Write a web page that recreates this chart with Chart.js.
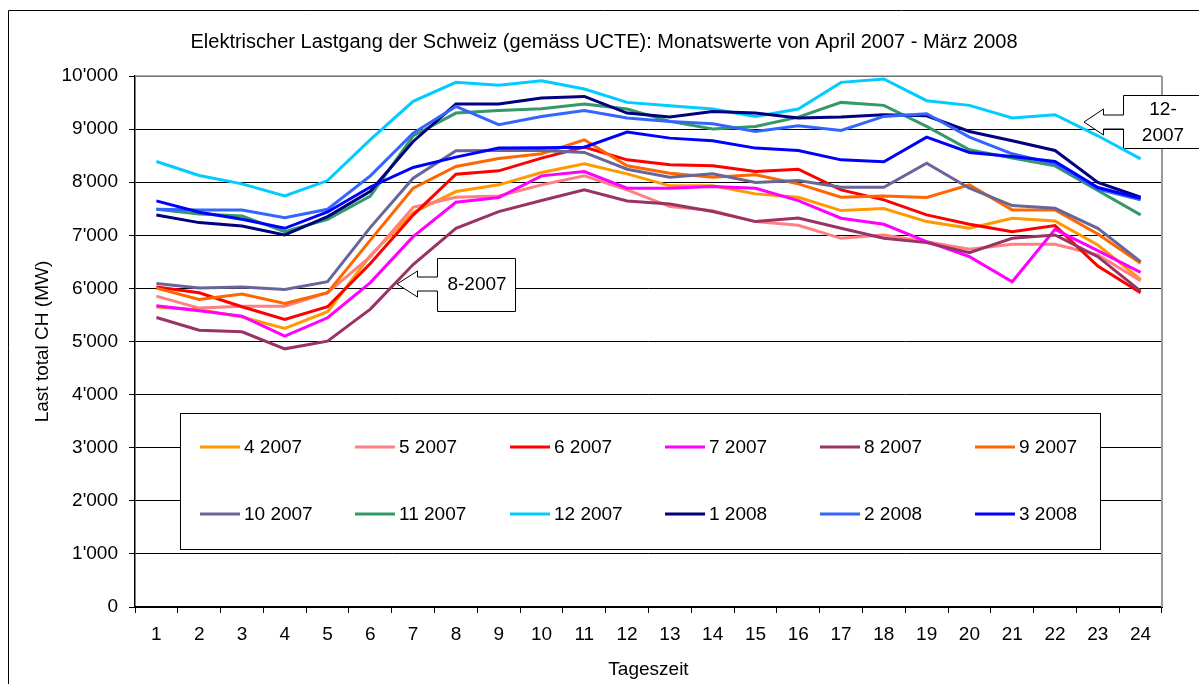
<!DOCTYPE html>
<html>
<head>
<meta charset="utf-8">
<script src="https://cdn.jsdelivr.net/npm/chart.js@4.4.0/dist/chart.umd.min.js"></script>
<style>
  html, body { margin: 0; padding: 0; background: #fff; }
  #wrap { width: 1199px; height: 684px; }
</style>
</head>
<body>
<div id="wrap"><canvas id="lastChart" width="1199" height="684"></canvas></div>
<script>
// Tageszeit (Stunden)
const hours = ['1', '2', '3', '4', '5', '6', '7', '8', '9', '10', '11', '12',
               '13', '14', '15', '16', '17', '18', '19', '20', '21', '22', '23', '24'];
const yTickLabels = ["0", "1'000", "2'000", "3'000", "4'000", "5'000",
                     "6'000", "7'000", "8'000", "9'000", "10'000"];
const monthLabels = ['4 2007', '5 2007', '6 2007', '7 2007', '8 2007', '9 2007',
                     '10 2007', '11 2007', '12 2007', '1 2008', '2 2008', '3 2008'];

// Last total CH (MW)
const apr2007 = [5648, 5600, 5460, 5245, 5560, 6620, 7430, 7824, 7950, 8182, 8346, 8157,
                 7931, 7931, 7780, 7717, 7465, 7503, 7258, 7132, 7321, 7270, 6818, 6170];
const mai2007 = [5855, 5629, 5666, 5666, 5918, 6597, 7528, 7717, 7742, 7950, 8119, 7855,
                 7541, 7465, 7258, 7189, 6943, 7006, 6881, 6736, 6830, 6830, 6629, 6145];
const jun2007 = [6025, 5918, 5654, 5415, 5654, 6470, 7380, 8151, 8214, 8453, 8660, 8421,
                 8327, 8308, 8201, 8245, 7855, 7667, 7384, 7208, 7069, 7182, 6421, 5918];
const jul2007 = [5673, 5579, 5478, 5101, 5447, 6110, 6975, 7623, 7711, 8119, 8201, 7887,
                 7887, 7918, 7887, 7654, 7321, 7208, 6881, 6597, 6126, 7113, 6711, 6302];
const aug2007 = [5453, 5214, 5182, 4862, 5006, 5610, 6450, 7132, 7447, 7654, 7855, 7648,
                 7591, 7447, 7258, 7327, 7132, 6943, 6862, 6673, 6943, 7006, 6597, 5950];
const sep2007 = [6006, 5792, 5893, 5717, 5918, 6910, 7887, 8296, 8447, 8535, 8799, 8308,
                 8170, 8094, 8138, 7969, 7717, 7742, 7711, 7950, 7478, 7478, 7025, 6472];
const okt2007 = [6094, 6006, 6025, 5981, 6126, 7150, 8075, 8591, 8597, 8597, 8560, 8245,
                 8094, 8157, 7994, 8031, 7906, 7906, 8358, 7887, 7560, 7509, 7132, 6503];
const nov2007 = [7490, 7403, 7365, 7069, 7302, 7740, 8874, 9302, 9352, 9384, 9472, 9377,
                 9145, 9000, 9050, 9226, 9503, 9447, 9050, 8610, 8453, 8308, 7843, 7384];
const dez2007 = [8390, 8126, 7969, 7742, 8031, 8800, 9522, 9880, 9824, 9912, 9755, 9503,
                 9440, 9377, 9239, 9377, 9880, 9943, 9535, 9447, 9208, 9270, 8874, 8440];
const jan2008 = [7384, 7239, 7176, 7006, 7352, 7830, 8767, 9472, 9472, 9585, 9616, 9302,
                 9226, 9333, 9302, 9208, 9226, 9270, 9252, 8956, 8780, 8597, 7994, 7717];
const feb2008 = [7490, 7478, 7478, 7333, 7491, 8120, 8925, 9428, 9082, 9239, 9352, 9208,
                 9145, 9101, 8956, 9063, 8975, 9239, 9289, 8849, 8535, 8346, 7868, 7667];
const mar2008 = [7648, 7434, 7302, 7132, 7440, 7910, 8277, 8472, 8642, 8648, 8660, 8943,
                 8830, 8780, 8642, 8597, 8421, 8384, 8849, 8560, 8484, 8390, 7899, 7698];

const seriesValues = [apr2007, mai2007, jun2007, jul2007, aug2007, sep2007,
                      okt2007, nov2007, dez2007, jan2008, feb2008, mar2008];
const lineColors = ['#FF9900', '#FF8080', '#FF0000', '#FF00FF', '#993366', '#FF6600',
                    '#666699', '#339966', '#00CCFF', '#000080', '#3366FF', '#0000FF'];

const FONT = "'Liberation Sans', Arial, sans-serif";
Chart.defaults.font.family = FONT;
Chart.defaults.font.size = 19;
Chart.defaults.color = '#000';

// Pfeil-Beschriftung: Kasten mit Pfeil nach links
function callout(ctx, boxL, boxT, boxR, boxB, tipX, tipY) {
    const headX = boxL - 20;
    ctx.beginPath();
    ctx.moveTo(boxL, boxT);
    ctx.lineTo(boxR, boxT);
    ctx.lineTo(boxR, boxB);
    ctx.lineTo(boxL, boxB);
    ctx.lineTo(boxL, tipY + 7);
    ctx.lineTo(headX, tipY + 7);
    ctx.lineTo(headX, tipY + 13);
    ctx.lineTo(tipX, tipY);
    ctx.lineTo(headX, tipY - 13);
    ctx.lineTo(headX, tipY - 7);
    ctx.lineTo(boxL, tipY - 7);
    ctx.closePath();
    ctx.fillStyle = '#fff';
    ctx.fill();
    ctx.strokeStyle = '#000';
    ctx.lineWidth = 1;
    ctx.stroke();
}

const decorPlugin = {
    id: 'decor',
    beforeDraw(chart) {
        const ctx = chart.ctx;
        ctx.save();
        ctx.fillStyle = '#fff';
        ctx.fillRect(0, 0, chart.width, chart.height);
        ctx.strokeStyle = '#000';
        ctx.lineWidth = 1;
        ctx.beginPath();
        ctx.moveTo(8.5, chart.height);
        ctx.lineTo(8.5, 10.5);
        ctx.lineTo(chart.width, 10.5);
        ctx.stroke();
        ctx.fillStyle = '#000';
        ctx.font = '20px ' + FONT;
        ctx.textAlign = 'center';
        ctx.textBaseline = 'middle';
        ctx.fillText('Elektrischer Lastgang der Schweiz (gemäss UCTE): Monatswerte von April 2007 - März 2008', 604, 42);
        ctx.restore();
    },
    beforeDatasetsDraw(chart) {
        const ctx = chart.ctx;
        const a = chart.chartArea;
        ctx.save();
        ctx.strokeStyle = '#999';
        ctx.lineWidth = 1.5;
        ctx.beginPath();
        ctx.moveTo(a.left, a.top);
        ctx.lineTo(a.right, a.top);
        ctx.stroke();
        ctx.lineWidth = 2;
        ctx.beginPath();
        ctx.moveTo(a.right, a.top);
        ctx.lineTo(a.right, a.bottom);
        ctx.stroke();

        callout(ctx, 437.5, 258.5, 515.5, 311.5, 397, 284);
        callout(ctx, 1123.5, 95.5, 1210, 148.5, 1084, 122);
        ctx.fillStyle = '#000';
        ctx.font = '19px ' + FONT;
        ctx.textAlign = 'center';
        ctx.textBaseline = 'middle';
        ctx.fillText('8-2007', 477, 285);
        ctx.fillText('12-', 1163, 110);
        ctx.fillText('2007', 1163, 136);
        ctx.restore();
    },
    afterDraw(chart) {
        const ctx = chart.ctx;
        ctx.save();
        ctx.fillStyle = '#fff';
        ctx.fillRect(180, 413, 920, 136);
        ctx.strokeStyle = '#000';
        ctx.lineWidth = 1;
        ctx.strokeRect(180.5, 413.5, 920, 136);
        ctx.font = '19px ' + FONT;
        ctx.textAlign = 'left';
        ctx.textBaseline = 'middle';
        chart.data.datasets.forEach((ds, i) => {
            const x0 = 200 + (i % 6) * 155;
            const y0 = 447 + Math.floor(i / 6) * 67;
            ctx.strokeStyle = ds.borderColor;
            ctx.lineWidth = 3;
            ctx.beginPath();
            ctx.moveTo(x0, y0);
            ctx.lineTo(x0 + 40, y0);
            ctx.stroke();
            ctx.fillStyle = '#000';
            ctx.fillText(ds.label, x0 + 44, y0 + 1);
        });
        ctx.restore();
    }
};

const datasets = seriesValues.map((vals, i) => ({
    label: monthLabels[i],
    data: vals,
    borderColor: lineColors[i],
    backgroundColor: lineColors[i],
    borderWidth: 3,
    pointRadius: 0,
    tension: 0,
    fill: false,
    order: seriesValues.length - i
}));

new Chart(document.getElementById('lastChart'), {
    type: 'line',
    data: { labels: hours, datasets: datasets },
    options: {
        responsive: false,
        animation: false,
        devicePixelRatio: 1,
        layout: { padding: { top: 76, right: 37, left: 0, bottom: 0 } },
        plugins: {
            legend: { display: false },
            title: { display: false },
            tooltip: { enabled: false }
        },
        scales: {
            x: {
                offset: true,
                grid: { offset: true, drawOnChartArea: false, drawTicks: true, tickLength: 6, color: '#000' },
                border: { color: '#000', width: 2 },
                ticks: { padding: 10, maxRotation: 0, autoSkip: false, color: '#000' },
                title: { display: true, text: 'Tageszeit', padding: { top: 0, bottom: 3 } },
                afterFit: s => { s.height = 77; }
            },
            y: {
                min: 0,
                max: 10000,
                ticks: {
                    stepSize: 1000,
                    padding: 11,
                    color: '#000',
                    callback: (v, i) => yTickLabels[i]
                },
                grid: { color: '#000', lineWidth: 1, tickLength: 6, drawTicks: true },
                border: { color: '#000', width: 1.5 },
                title: { display: true, text: 'Last total CH (MW)', padding: { top: 31, bottom: 0 } },
                afterFit: s => { s.width = 135; }
            }
        }
    },
    plugins: [decorPlugin]
});
</script>
</body>
</html>
